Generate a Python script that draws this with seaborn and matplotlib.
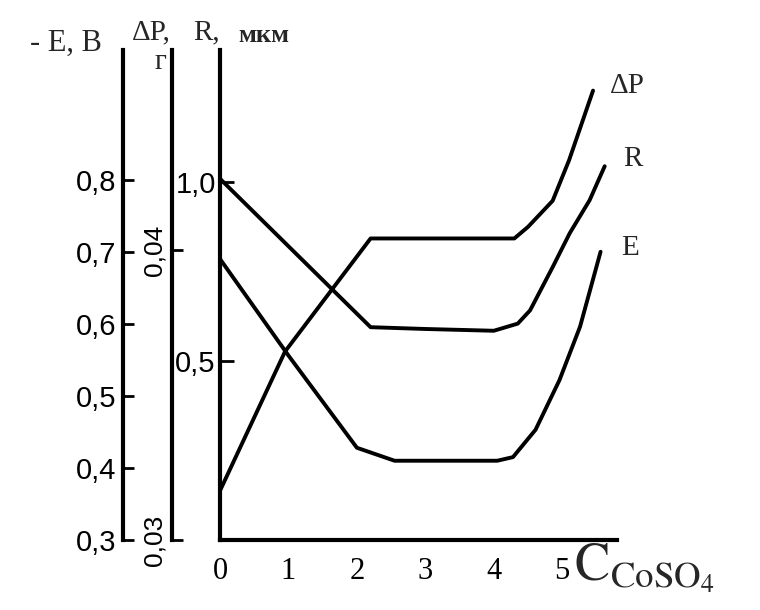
import matplotlib
matplotlib.use("Agg")
import matplotlib.pyplot as plt
import seaborn as sns
import pandas as pd
from matplotlib.ticker import FuncFormatter

# CoSO4 concentration and the three curves
conc_e = [0, 1.0, 2.0, 2.55, 4.05, 4.28, 4.61, 4.96, 5.26, 5.56]
e_volt = [0.69, 0.556, 0.428, 0.41, 0.41, 0.415, 0.453, 0.522, 0.596, 0.70]

conc_r = [0, 2.2, 3.0, 4.0, 4.35, 4.53, 4.86, 5.11, 5.4, 5.62]
r_um = [1.01, 0.595, 0.59, 0.585, 0.605, 0.642, 0.763, 0.858, 0.95, 1.045]

conc_p = [0, 0.95, 2.2, 4.3, 4.5, 4.86, 5.1, 5.45]
dp_g = [0.0317, 0.0365, 0.0404, 0.0404, 0.0408, 0.0417, 0.0431, 0.0455]

x_ticks = [0, 1, 2, 3, 4, 5]
e_ticks = [0.3, 0.4, 0.5, 0.6, 0.7, 0.8]
p_ticks = [0.03, 0.04]
r_ticks = [0.5, 1.0]

sns.set_theme(style="white")
plt.rcParams['font.family'] = ['Liberation Serif', 'DejaVu Serif']
plt.rcParams['mathtext.fontset'] = 'stix'

LW = 2.8


def comma(fmt):
    return FuncFormatter(lambda v, _: format(v, fmt).replace('.', ','))


fig = plt.figure(figsize=(7.6, 6.1), dpi=100)
W, H = 760, 610
ax = fig.add_axes([220 / W, 1 - 540 / H, 397 / W, 490 / H])
ax_e = ax.twinx()
ax_p = ax.twinx()

df_r = pd.DataFrame({'c': conc_r, 'v': r_um})
df_e = pd.DataFrame({'c': conc_e, 'v': e_volt})
df_p = pd.DataFrame({'c': conc_p, 'v': dp_g})
sns.lineplot(data=df_r, x='c', y='v', ax=ax, color='black', lw=LW, estimator=None)
sns.lineplot(data=df_e, x='c', y='v', ax=ax_e, color='black', lw=LW, estimator=None)
sns.lineplot(data=df_p, x='c', y='v', ax=ax_p, color='black', lw=LW, estimator=None)

ax.set_xlim(0, 5.8)
ax.set_ylim(0, 1.37)
ax_e.set_ylim(0.3, 0.98)
ax_p.set_ylim(0.03, 0.0469)

# main (R) axis
for s in ['top', 'right']:
    ax.spines[s].set_visible(False)
for s in ['left', 'bottom']:
    ax.spines[s].set_linewidth(3)
    ax.spines[s].set_color('black')
ax.set_xticks(x_ticks)
ax.set_yticks(r_ticks)
ax.yaxis.set_major_formatter(comma('.1f'))
ax.tick_params(axis='x', direction='in', length=6, width=2, pad=12, labelsize=22, colors='black')
ax.tick_params(axis='y', direction='in', length=10, width=2, pad=3, labelsize=21, colors='black')
for lab in ax.get_yticklabels():
    lab.set_fontfamily('Liberation Sans')
ax.set_xlabel('')
ax.set_ylabel('')

# extra left axes for E and dP
for a, pos in [(ax_e, (123 - 220) / 397), (ax_p, (172 - 220) / 397)]:
    for s in ['top', 'right', 'bottom']:
        a.spines[s].set_visible(False)
    a.spines['left'].set_visible(True)
    a.spines['left'].set_position(('axes', pos))
    a.spines['left'].set_linewidth(3)
    a.spines['left'].set_color('black')
    a.yaxis.set_ticks_position('left')
    a.yaxis.set_label_position('left')
    a.set_ylabel('')
    a.set_xlabel('')

ax_e.set_yticks(e_ticks)
ax_e.yaxis.set_major_formatter(comma('.1f'))
ax_e.tick_params(axis='y', direction='in', length=8, width=2, pad=5, labelsize=21, colors='black')
for lab in ax_e.get_yticklabels():
    lab.set_fontfamily('Liberation Sans')

ax_p.set_yticks(p_ticks)
ax_p.yaxis.set_major_formatter(comma('.2f'))
ax_p.tick_params(axis='y', direction='in', length=8, width=2, pad=4, labelsize=19,
                 labelrotation=90, colors='black')
for lab in ax_p.get_yticklabels():
    lab.set_fontfamily('Liberation Sans')
    lab.set_va('center')

# curve labels at the line ends
ax_p.annotate('ΔP', xy=(conc_p[-1], dp_g[-1]), xytext=(25, 3), textcoords='offset points',
              ha='center', va='center', fontsize=21)
ax.annotate('R', xy=(conc_r[-1], r_um[-1]), xytext=(20, 5), textcoords='offset points',
            ha='center', va='center', fontsize=21)
ax_e.annotate('E', xy=(conc_e[-1], e_volt[-1]), xytext=(21, 3), textcoords='offset points',
              ha='center', va='center', fontsize=21)

# axis titles
fig.text(30 / W, 1 - 43 / H, '- E, В', ha='left', va='center', fontsize=22)
fig.text(132 / W, 1 - 32 / H, 'ΔP,', ha='left', va='center', fontsize=21)
fig.text(193 / W, 1 - 32 / H, 'R,', ha='left', va='center', fontsize=21)
fig.text(238 / W, 1 - 35 / H, 'мкм', ha='left', va='center', fontsize=19, fontweight='bold')
fig.text(160 / W, 1 - 62 / H, 'г', ha='center', va='center', fontsize=21)
fig.text(574 / W, 1 - 568 / H, r'$\mathrm{C_{CoSO_4}}$', ha='left', va='center', fontsize=38)

fig.savefig('out.png', dpi=100, facecolor='white')
